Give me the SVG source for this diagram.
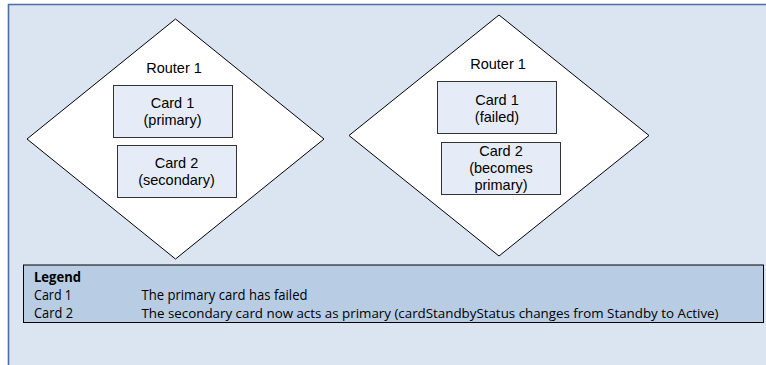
<svg xmlns="http://www.w3.org/2000/svg" width="766" height="365" viewBox="0 0 766 365">
<style>
.dia{fill:#ffffff;stroke:#000000;stroke-width:1}
.card{fill:#e6ecf7;stroke:#333333;stroke-width:1}
.t{font-family:"Liberation Sans",Arial,sans-serif;font-size:14.5px;fill:#000;text-anchor:middle}
.lg{font-family:"Open Sans","Noto Sans",sans-serif;font-size:14.5px;fill:#000}
.lgs{font-family:"Open Sans","Noto Sans",sans-serif;font-size:13px;fill:#000}
.lgb{font-family:"Open Sans","Noto Sans",sans-serif;font-size:14.5px;font-weight:bold;fill:#000}
</style>
<rect x="0" y="0" width="766" height="365" fill="#ffffff"/>
<rect x="8" y="4" width="760" height="365" fill="#dbe5f1"/>
<path d="M8.5 365 V4.5 H766" fill="none" stroke="#4a6fa0" stroke-width="1.6"/>
<g id="router-left">
<polygon class="dia" points="175.5,19 324,139 175.5,259 27,139"/>
<text class="t" x="174" y="72.5">Router 1</text>
</g>
<g id="card1-left">
<rect class="card" x="113.5" y="85.5" width="119" height="52"/>
<text class="t" x="172.5" y="108">Card 1</text>
<text class="t" x="172.5" y="124.5">(primary)</text>
</g>
<g id="card2-left">
<rect class="card" x="117.5" y="145.5" width="119" height="52"/>
<text class="t" x="176.5" y="167.5">Card 2</text>
<text class="t" x="176.5" y="185">(secondary)</text>
</g>
<g id="router-right">
<polygon class="dia" points="499,15 649,135.5 499,256 349,135.5"/>
<text class="t" x="498" y="69">Router 1</text>
</g>
<g id="card1-right">
<rect class="card" x="437.5" y="81.5" width="119" height="52"/>
<text class="t" x="497" y="104.5">Card 1</text>
<text class="t" x="497" y="121.5">(failed)</text>
</g>
<g id="card2-right">
<rect class="card" x="441.5" y="142.5" width="119" height="52"/>
<text class="t" x="501" y="155.5">Card 2</text>
<text class="t" x="501" y="172.5">(becomes</text>
<text class="t" x="501" y="190">primary)</text>
</g>
<g id="connectors"></g>
<g id="legend">
<rect x="23.5" y="265" width="740" height="57.5" fill="#b8cce4" stroke="#000000" stroke-width="1"/>
<text class="lgb" x="34" y="281.5" textLength="47" lengthAdjust="spacingAndGlyphs">Legend</text>
<text class="lg" x="34" y="300" textLength="38" lengthAdjust="spacingAndGlyphs">Card 1</text>
<text class="lg" x="141.5" y="300" textLength="166" lengthAdjust="spacingAndGlyphs">The primary card has failed</text>
<text class="lg" x="34" y="317.5" textLength="39" lengthAdjust="spacingAndGlyphs">Card 2</text>
<text class="lgs" x="141.5" y="317.5" textLength="577" lengthAdjust="spacingAndGlyphs">The secondary card now acts as primary (cardStandbyStatus changes from Standby to Active)</text>
</g>
</svg>
